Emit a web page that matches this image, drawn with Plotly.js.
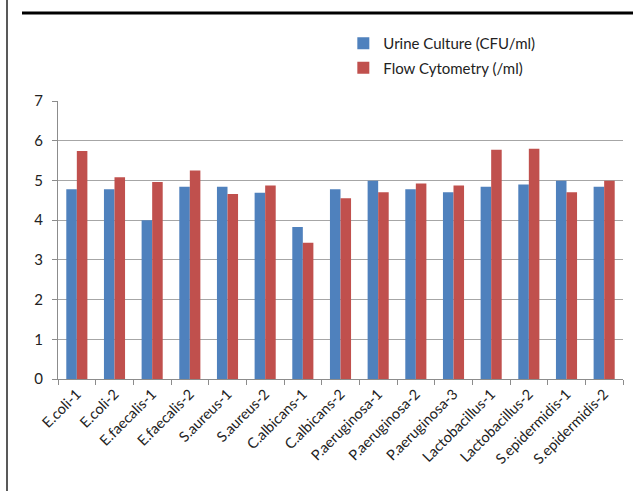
<!DOCTYPE html>
<html>
<head>
<meta charset="utf-8">
<script src="https://cdn.plot.ly/plotly-3.0.1.min.js"></script>
<style>
html,body{margin:0;padding:0;background:#fff;}
#wrap{position:relative;width:633px;height:491px;overflow:hidden;}
#chart{width:633px;height:491px;}
</style>
</head>
<body>
<div id="wrap"><div id="chart"></div></div>
<script>
const categories = ["E.coli-1","E.coli-2","E.faecalis-1","E.faecalis-2","S.aureus-1","S.aureus-2","C.albicans-1","C.albicans-2","P.aeruginosa-1","P.aeruginosa-2","P.aeruginosa-3","Lactobacillus-1","Lactobacillus-2","S.epidermidis-1","S.epidermidis-2"];
const urineCulture = [4.78,4.78,4.00,4.84,4.84,4.69,3.83,4.78,4.99,4.78,4.70,4.84,4.90,4.99,4.84];
const flowCytometry = [5.74,5.08,4.96,5.25,4.66,4.87,3.43,4.55,4.70,4.92,4.87,5.77,5.80,4.70,4.99];
const seriesNames = ["Urine Culture (CFU/ml)","Flow Cytometry (/ml)"];
const yTicks = [0,1,2,3,4,5,6,7];

const fontFam = "Lato, Open Sans, Liberation Sans, sans-serif";
const traces = [
  {type:'bar', name:seriesNames[0], x:categories, y:urineCulture, marker:{color:'#4F81BD'}, legendgroup:'a'},
  {type:'bar', name:seriesNames[1], x:categories, y:flowCytometry, marker:{color:'#C0504D'}, legendgroup:'b'}
];
const layout = {
  width:633, height:491,
  margin:{l:58, r:10, t:101, b:112},
  paper_bgcolor:'#fff', plot_bgcolor:'#fff',
  barmode:'group', bargap:0.44, bargroupgap:0,
  font:{family:fontFam, size:14, color:'#222'},
  showlegend:true,
  legend:{x:0.505, y:1.266, xanchor:'left', yanchor:'top', font:{size:15, color:'#222'}, tracegroupgap:2, itemwidth:30, bgcolor:'rgba(0,0,0,0)'},
  xaxis:{type:'category', tickangle:-45, showline:true, linecolor:'#8c8c8c', linewidth:1, ticks:'outside', tickson:'boundaries', ticklen:5, tickcolor:'#8c8c8c', showgrid:false, tickfont:{size:14.5, color:'#222'}, fixedrange:true},
  yaxis:{range:[0,7], tickvals:yTicks, showline:true, linecolor:'#8c8c8c', linewidth:1, ticks:'outside', ticklen:5, tickcolor:'#8c8c8c', showgrid:true, gridcolor:'#a6a6a6', gridwidth:1, zeroline:false, tickfont:{size:15, color:'#222'}, ticklabelstandoff:6, fixedrange:true},
  shapes:[
    {type:'line', xref:'paper', yref:'paper', x0:-51/565, x1:-51/565, y0:-112/278, y1:491/278, line:{color:'#222', width:1.5}},
    {type:'line', xref:'paper', yref:'paper', x0:-36/565, x1:(633-58)/565, y0:(379-13)/278, y1:(379-13)/278, line:{color:'#000', width:3}}
  ]
};
Plotly.newPlot('chart', traces, layout, {displayModeBar:false, staticPlot:true});
</script>
</body>
</html>
